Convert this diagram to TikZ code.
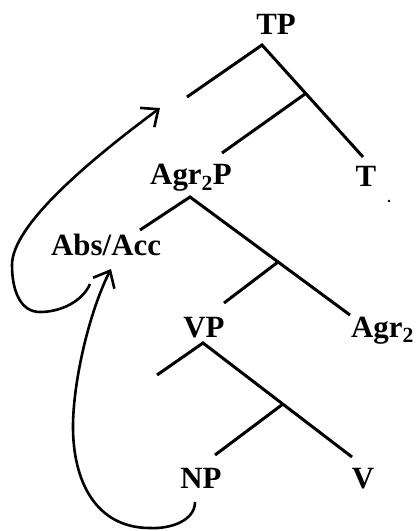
\documentclass[tikz,border=0pt]{standalone}
\usepackage{fontspec}
\setmainfont{Liberation Serif}
\usetikzlibrary{arrows.meta}
\tikzset{
  lbl/.style={font=\fontsize{31}{33}\selectfont\bfseries, inner sep=0pt, anchor=base},
  branch/.style={line width=3bp, line cap=butt},
  mover/.style={line width=2.6bp, -{Straight Barb[length=14bp,width=24bp,line width=2.6bp]}}
}
\begin{document}
\begin{tikzpicture}[x=1bp,y=-1bp]
\useasboundingbox (0,0) rectangle (415,531);
% labels
\node[lbl] (TP) at (276,35) {TP};
\node[lbl] (T) at (366,187) {T};
\node[lbl, anchor=base west] (AgrP) at (150,185) {Agr\textsubscript{2}P};
\node[lbl, anchor=base west] (AbsAcc) at (51,255) {Abs/Acc};
\node[lbl] (VP) at (204,337) {VP};
\node[lbl, anchor=base east] (Agr) at (414,337) {Agr\textsubscript{2}};
\node[lbl] (NP) at (201,488) {NP};
\node[lbl] (V) at (363,488) {V};
% tree coordinates
\coordinate (tpTop) at (262,45);
\coordinate (tpSpec) at (187,97);
\coordinate (tBar) at (305,94);
\coordinate (tEnd) at (363,157);
\coordinate (agrPEnd) at (222,153);
\coordinate (agrTop) at (190,197);
\coordinate (agrSpec) at (140,230);
\coordinate (agrBar) at (278,262);
\coordinate (agrEnd) at (350,315);
\coordinate (vpEnd) at (224,303);
\coordinate (vpTop) at (203,343);
\coordinate (vpSpec) at (157,375);
\coordinate (vBar) at (283,404);
\coordinate (vEnd) at (352,457);
\coordinate (npEnd) at (215,455);
% branches
\draw[branch] (tpSpec) -- (tpTop) -- (tEnd);
\draw[branch] (tBar) -- (agrPEnd);
\draw[branch] (agrSpec) -- (agrTop) -- (agrEnd);
\draw[branch] (agrBar) -- (vpEnd);
\draw[branch] (vpSpec) -- (vpTop) -- (vEnd);
\draw[branch] (vBar) -- (npEnd);
% movement arrows
\coordinate (a1s) at (90,284);
\coordinate (a1t) at (160,108);
\coordinate (a2s) at (195,502);
\coordinate (a2t) at (111,269);
\draw[mover] (a1s) .. controls (82,302) and (60,312) .. (40,312)
  .. controls (20,312) and (12,290) .. (12,265)
  .. controls (12,225) and (90,160) .. (a1t);
\draw[mover] (a2s) .. controls (195,521) and (170,529) .. (150,528)
  .. controls (95,528) and (73,480) .. (73,427)
  .. controls (73,380) and (90,310) .. (a2t);
% stray dot
\fill (389,201) circle (1.3);
\end{tikzpicture}
\end{document}
